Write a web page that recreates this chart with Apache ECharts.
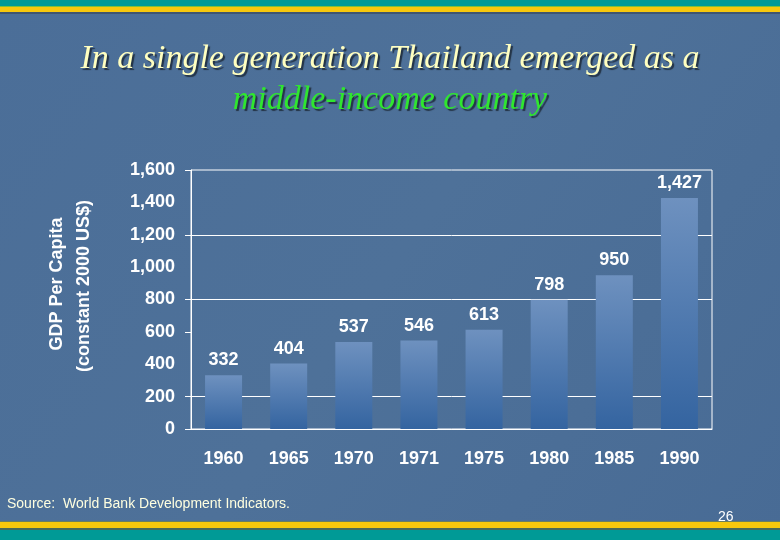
<!DOCTYPE html>
<html>
<head>
<meta charset="utf-8">
<script src="https://cdn.jsdelivr.net/npm/echarts@6/dist/echarts.min.js"></script>
<style>
  html, body { margin: 0; padding: 0; }
  #chart { width: 780px; height: 540px; }
</style>
</head>
<body>
<div id="chart"></div>
<script>
// data
const years = ['1960', '1965', '1970', '1971', '1975', '1980', '1985', '1990']
const gdpPerCapita = [332, 404, 537, 546, 613, 798, 950, 1427]
const yTicks = [0, 200, 600, 800, 1200, 1600] // tick marks / grid lines that show on the slide

const yMax = 1600
const yStep = 200
const fmt = v => Number(v).toLocaleString('en-US')
const FONT = '"Liberation Sans", Arial, sans-serif'

// one colour per split line, transparent where the slide has no line
const gridColors = []
for (let v = 0; v <= yMax; v += yStep) {
  gridColors.push(yTicks.includes(v) ? '#ffffff' : 'rgba(0,0,0,0)')
}

const chart = echarts.init(document.getElementById('chart'))

const option = {
  backgroundColor: {
    type: 'linear', x: 0, y: 0, x2: 1, y2: 1,
    colorStops: [
      { offset: 0, color: '#4b6e98' },
      { offset: 0.5, color: '#4e7199' },
      { offset: 1, color: '#486b95' }
    ]
  },
  animation: false,
  graphic: [
    // top bands
    { type: 'rect', left: 0, top: 0, shape: { width: 780, height: 6 }, style: { fill: '#009a96' }, silent: true },
    { type: 'rect', left: 0, top: 6, shape: { width: 780, height: 1 }, style: { fill: '#7fbf3a' }, silent: true },
    { type: 'rect', left: 0, top: 7, shape: { width: 780, height: 5 }, style: { fill: '#f7c80d' }, silent: true },
    { type: 'rect', left: 0, top: 12, shape: { width: 780, height: 2 }, style: { fill: '#3f5570' }, silent: true },
    // bottom bands
    { type: 'rect', left: 0, top: 521, shape: { width: 780, height: 1 }, style: { fill: '#6b7f60' }, silent: true },
    { type: 'rect', left: 0, top: 522, shape: { width: 780, height: 6 }, style: { fill: '#f7c80d' }, silent: true },
    { type: 'rect', left: 0, top: 528, shape: { width: 780, height: 2 }, style: { fill: '#4a6a58' }, silent: true },
    { type: 'rect', left: 0, top: 530, shape: { width: 780, height: 10 }, style: { fill: '#009a96' }, silent: true },
    // title
    {
      type: 'text', left: 'center', top: 42,
      style: {
        text: 'In a single generation Thailand emerged as a',
        font: 'italic 34px "Liberation Serif", "Times New Roman", serif',
        fill: '#ffffc0',
        textShadowColor: 'rgba(0,0,0,0.55)', textShadowOffsetX: 2, textShadowOffsetY: 2, textShadowBlur: 1
      }
    },
    {
      type: 'text', left: 'center', top: 83,
      style: {
        text: 'middle-income country',
        font: 'italic 34px "Liberation Serif", "Times New Roman", serif',
        fill: '#2fe62f',
        textShadowColor: 'rgba(0,0,0,0.55)', textShadowOffsetX: 2, textShadowOffsetY: 2, textShadowBlur: 1
      }
    },
    // y axis title
    {
      type: 'text', x: 57, y: 284, rotation: Math.PI / 2,
      style: {
        text: 'GDP Per Capita',
        font: 'bold 18px ' + FONT,
        fill: '#ffffff', align: 'center', verticalAlign: 'middle'
      }
    },
    {
      type: 'text', x: 84, y: 286, rotation: Math.PI / 2,
      style: {
        text: '(constant 2000 US$)',
        font: 'bold 18px ' + FONT,
        fill: '#ffffff', align: 'center', verticalAlign: 'middle'
      }
    },
    // footer
    {
      type: 'text', left: 7, top: 497,
      style: {
        text: 'Source:  World Bank Development Indicators.',
        font: '14px ' + FONT,
        fill: '#ffffe0'
      }
    },
    {
      type: 'text', left: 718, top: 510,
      style: {
        text: '26',
        font: '14px ' + FONT,
        fill: '#ffffff'
      }
    }
  ],
  grid: {
    left: 191,
    right: 68,
    top: 170,
    bottom: 111,
    show: true,
    borderColor: '#ffffff',
    borderWidth: 1
  },
  xAxis: {
    type: 'category',
    data: years,
    axisLine: { lineStyle: { color: '#ffffff', width: 1 } },
    axisTick: { show: false },
    axisLabel: {
      color: '#ffffff',
      fontFamily: FONT,
      fontWeight: 'bold',
      fontSize: 18,
      margin: 21
    }
  },
  yAxis: {
    type: 'value',
    min: 0,
    max: yMax,
    interval: yStep,
    axisLine: { show: true, lineStyle: { color: '#ffffff', width: 1 } },
    axisTick: {
      show: true,
      length: 6,
      customValues: yTicks,
      lineStyle: { color: '#ffffff' }
    },
    splitLine: { show: true, lineStyle: { color: gridColors, width: 1 } },
    axisLabel: {
      color: '#ffffff',
      fontFamily: FONT,
      fontWeight: 'bold',
      fontSize: 18,
      margin: 16,
      formatter: fmt
    }
  },
  series: [{
    type: 'bar',
    data: gdpPerCapita,
    barWidth: 37,
    itemStyle: {
      color: {
        type: 'linear', x: 0, y: 0, x2: 0, y2: 1,
        colorStops: [
          { offset: 0, color: '#6e91bf' },
          { offset: 1, color: '#3464a0' }
        ]
      }
    },
    label: {
      show: true,
      position: 'top',
      distance: 6,
      color: '#ffffff',
      fontFamily: FONT,
      fontWeight: 'bold',
      fontSize: 18,
      formatter: p => fmt(p.value)
    }
  }]
}

chart.setOption(option)
</script>
</body>
</html>
